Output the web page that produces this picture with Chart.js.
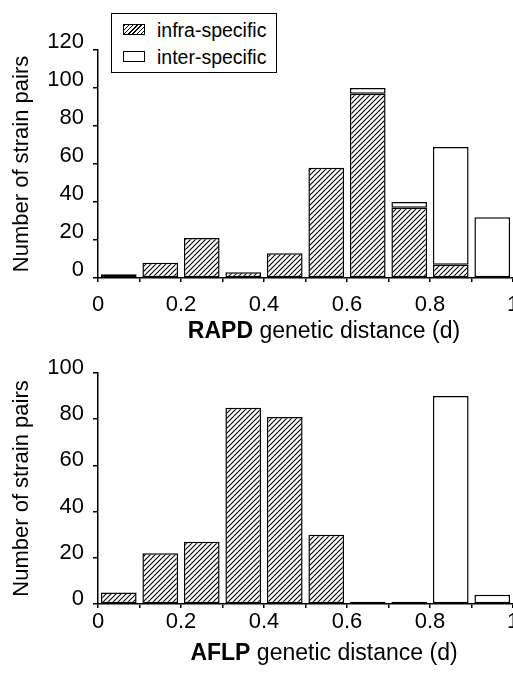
<!DOCTYPE html>
<html lang="en">
<head>
  <meta charset="UTF-8" />
  <title>Genetic distance histograms</title>
  <script src="https://cdn.jsdelivr.net/npm/chart.js"></script>
  <style>
    html, body { margin: 0; padding: 0; background: #fff; overflow: hidden; }
    body { width: 513px; height: 675px; position: relative; font-family: "Liberation Sans", Arial, sans-serif; }
    .panel { position: absolute; left: 0; }
    .xtitle { position: absolute; font-size: 23px; line-height: 23px; white-space: nowrap; transform: translateX(-50%); color: #000; }
    .legend { position: absolute; left: 111px; top: 13px; width: 164px; height: 58px; border: 1.5px solid #000; background: #fff; font-size: 19.5px; }
    .legend .row { position: absolute; left: 11px; height: 22px; line-height: 22px; }
    .legend .sw { display: inline-block; width: 20px; height: 9px; border: 1.5px solid #000; vertical-align: middle; margin-right: 12px; position: relative; top: -2px; }
    .legend .hatch { background: repeating-linear-gradient(135deg, #000 0 1px, #fff 1px 3px); }
  </style>
</head>
<body>
  <div class="panel" style="top:0"><canvas id="rapdChart" width="530" height="318"></canvas></div>
  <div class="panel" style="top:340px"><canvas id="aflpChart" width="530" height="304"></canvas></div>

  <div class="legend">
    <div class="row" style="top:5px"><span class="sw hatch"></span>infra-specific</div>
    <div class="row" style="top:32px"><span class="sw"></span>inter-specific</div>
  </div>

  <div class="xtitle" style="left:324px; top:319px"><b>RAPD</b> genetic distance (d)</div>
  <div class="xtitle" style="left:324px; top:641px"><b>AFLP</b> genetic distance (d)</div>

  <script>
    // bin centres (d), 0.1 wide
    const binCentres = [0.05, 0.15, 0.25, 0.35, 0.45, 0.55, 0.65, 0.75, 0.85, 0.95];

    // RAPD counts
    const rapdInfra = [2, 8, 21, 3, 13, 58, 97, 37, 7, 0];
    const rapdInter = [0, 0, 0, 0, 0, 0, 3, 3, 62, 32];

    // AFLP counts
    const aflpInfra = [5, 22, 27, 85, 81, 30, 1, 1, 0, 0];
    const aflpInter = [0, 0, 0, 0, 0, 0, 0, 0, 90, 4];

    const rapdYTicks = [0, 20, 40, 60, 80, 100, 120];
    const aflpYTicks = [0, 20, 40, 60, 80, 100];
    const xTickLabels = ["0", "0.2", "0.4", "0.6", "0.8", "1"];

    Chart.defaults.font.family = '"Liberation Sans", Arial, sans-serif';
    Chart.defaults.color = "#000";

    // diagonal hatch for infra-specific bars
    function makeHatch() {
      const c = document.createElement("canvas");
      c.width = 5; c.height = 5;
      const g = c.getContext("2d");
      g.fillStyle = "#fff";
      g.fillRect(0, 0, 5, 5);
      g.strokeStyle = "#000";
      g.lineWidth = 1.1;
      g.beginPath();
      g.moveTo(-1, 6); g.lineTo(6, -1);
      g.moveTo(-1, 1); g.lineTo(1, -1);
      g.moveTo(4, 6); g.lineTo(6, 4);
      g.stroke();
      return g.createPattern(c, "repeat");
    }
    const hatch = makeHatch();

    function toPoints(values) {
      return values.map((v, i) => ({ x: binCentres[i], y: v }));
    }

    function makeChart(id, infra, inter, yTicks, opts) {
      const yMax = yTicks[yTicks.length - 1];
      new Chart(document.getElementById(id), {
        type: "bar",
        data: {
          datasets: [
            {
              label: "infra-specific",
              data: toPoints(infra),
              backgroundColor: hatch,
              borderColor: "#000",
              borderWidth: 1.5,
              borderSkipped: false,
              barPercentage: 0.86,
              categoryPercentage: 1
            },
            {
              label: "inter-specific",
              data: toPoints(inter),
              backgroundColor: "#fff",
              borderColor: "#000",
              borderWidth: 1.5,
              borderSkipped: false,
              barPercentage: 0.86,
              categoryPercentage: 1
            }
          ]
        },
        options: {
          responsive: false,
          animation: false,
          layout: { padding: { left: 0, right: 17, top: opts.top, bottom: 0 } },
          plugins: {
            legend: { display: false },
            tooltip: { enabled: false }
          },
          scales: {
            x: {
              type: "linear",
              stacked: true,
              offset: false,
              min: 0,
              max: 1,
              afterFit: (s) => { s.height = 40; },
              border: { display: true, color: "#000", width: 1.5 },
              grid: { offset: false, drawOnChartArea: false, drawTicks: true, tickLength: 4, color: "#000", lineWidth: 1.5 },
              afterBuildTicks: (s) => {
                s.ticks = binCentres.map((c) => ({ value: Math.round((c - 0.05) * 10) / 10 })).concat([{ value: 1 }]);
              },
              ticks: {
                autoSkip: false,
                maxRotation: 0,
                padding: opts.xPad,
                font: { size: 22 },
                callback: (v, i) => (i % 2 === 0 ? xTickLabels[i / 2] : "")
              }
            },
            y: {
              stacked: true,
              min: 0,
              max: yMax,
              afterFit: (s) => { s.width = 98; },
              border: { display: true, color: "#000", width: 1.5 },
              grid: { drawOnChartArea: false, drawTicks: true, tickLength: 5, color: "#000", lineWidth: 1.5 },
              afterBuildTicks: (s) => { s.ticks = yTicks.map((v) => ({ value: v })); },
              ticks: {
                padding: 9,
                labelOffset: opts.yOff,
                font: { size: 22 }
              },
              title: {
                display: true,
                text: "Number of strain pairs",
                font: { size: 22 },
                padding: { top: 9, bottom: 0 }
              }
            }
          }
        }
      });
    }

    makeChart("rapdChart", rapdInfra, rapdInter, rapdYTicks, { top: 50, xPad: 10, yOff: -8 });
    makeChart("aflpChart", aflpInfra, aflpInter, aflpYTicks, { top: 33, xPad: 1, yOff: -5 });
  </script>
</body>
</html>
